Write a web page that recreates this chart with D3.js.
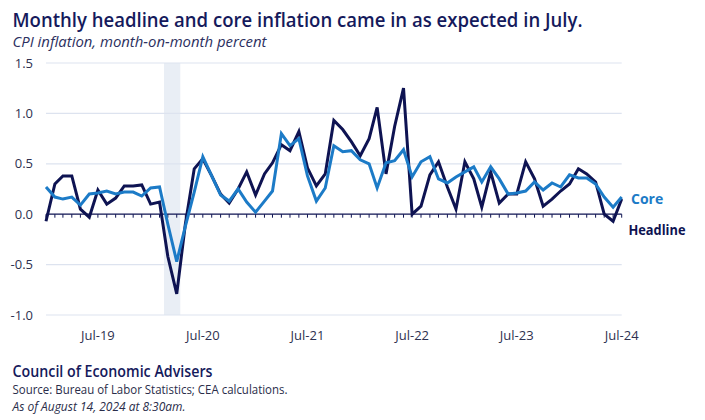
<!DOCTYPE html>
<html>
<head>
<meta charset="utf-8">
<script src="https://cdn.jsdelivr.net/npm/d3@7"></script>
<style>
  body { margin: 0; background: #fff; }
  svg { display: block; font-family: 'Open Sans', sans-serif; }
</style>
</head>
<body>
<div id="chart"></div>
<script>
// monthly CPI, Jan 2019 .. Jul 2024
const startMonth = new Date(2019, 0, 1);
const endMonth = new Date(2024, 6, 1);
const months = d3.timeMonth.range(startMonth, d3.timeMonth.offset(endMonth, 1));

const headline = [
  -0.07, 0.30, 0.38, 0.38, 0.05, -0.03, 0.24, 0.10, 0.16, 0.28, 0.28, 0.29,
  0.10, 0.12, -0.42, -0.79, -0.10, 0.45, 0.55, 0.38, 0.20, 0.11, 0.25, 0.42,
  0.19, 0.40, 0.51, 0.69, 0.63, 0.82, 0.46, 0.28, 0.40, 0.93, 0.84, 0.72,
  0.58, 0.75, 1.06, 0.40, 0.87, 1.25, 0.00, 0.08, 0.39, 0.52, 0.27, 0.05,
  0.52, 0.35, 0.07, 0.42, 0.11, 0.20, 0.20, 0.52, 0.35, 0.08, 0.15, 0.23,
  0.30, 0.45, 0.40, 0.32, 0.00, -0.07, 0.15
];

const core = [
  0.27, 0.17, 0.15, 0.17, 0.09, 0.20, 0.21, 0.23, 0.20, 0.22, 0.22, 0.18,
  0.26, 0.27, -0.10, -0.47, -0.12, 0.22, 0.57, 0.38, 0.19, 0.13, 0.25, 0.12,
  0.02, 0.13, 0.23, 0.80, 0.68, 0.75, 0.38, 0.13, 0.26, 0.68, 0.62, 0.63,
  0.54, 0.50, 0.26, 0.51, 0.53, 0.64, 0.37, 0.52, 0.57, 0.35, 0.31, 0.37,
  0.42, 0.47, 0.32, 0.47, 0.35, 0.20, 0.21, 0.23, 0.32, 0.24, 0.31, 0.27,
  0.39, 0.36, 0.36, 0.30, 0.17, 0.07, 0.17
];

const yTicks = [-1.0, -0.5, 0.0, 0.5, 1.0, 1.5];
const xTickDates = [2019, 2020, 2021, 2022, 2023, 2024].map(y => new Date(y, 6, 1));
const recession = [new Date(2020, 1, 1), new Date(2020, 3, 1)];

const width = 705, height = 420;
const navy = '#151a5c', blue = '#1c7bc7', lineNavy = '#0e1352';

const x = d3.scaleTime().domain([startMonth, endMonth]).range([46, 621.7]);
const y = d3.scaleLinear().domain([-1, 1.5]).range([315, 63]);
const step = x(months[1]) - x(months[0]);

const svg = d3.select('#chart').append('svg')
  .attr('width', width)
  .attr('height', height);

// titles
svg.append('text')
  .attr('x', 12.5).attr('y', 27)
  .attr('font-size', 20).attr('font-weight', 600)
  .attr('fill', navy)
  .attr('textLength', 570).attr('lengthAdjust', 'spacingAndGlyphs')
  .text('Monthly headline and core inflation came in as expected in July.');

svg.append('text')
  .attr('x', 12.5).attr('y', 47)
  .attr('font-size', 14.5).attr('font-style', 'italic')
  .attr('fill', '#2c3060')
  .attr('textLength', 254).attr('lengthAdjust', 'spacingAndGlyphs')
  .text('CPI inflation, month-on-month percent');

// recession band
svg.append('rect')
  .attr('x', x(recession[0]) + step * 0.5)
  .attr('width', x(recession[1]) - x(recession[0]) - step * 0.1)
  .attr('y', y(1.5))
  .attr('height', y(-1) - y(1.5))
  .attr('fill', '#e9eef5');

// grid
svg.append('g')
  .selectAll('line')
  .data(yTicks.filter(d => d !== 0))
  .join('line')
    .attr('x1', x.range()[0]).attr('x2', x.range()[1])
    .attr('y1', d => y(d)).attr('y2', d => y(d))
    .attr('stroke', '#dde3ef').attr('stroke-width', 1.2);

// y labels (plain hyphen for negatives, as in the source)
svg.append('g')
  .selectAll('text')
  .data(yTicks)
  .join('text')
    .attr('x', 33).attr('y', d => y(d))
    .attr('dy', '0.35em')
    .attr('text-anchor', 'end')
    .attr('font-size', 13)
    .attr('fill', '#2e3150')
    .text(d => d3.format('.1f')(d).replace('\u2212', '-'));

// zero axis with monthly ticks
const zero = svg.append('g').attr('transform', `translate(0,${y(0)})`);
zero.selectAll('line.tick')
  .data(months)
  .join('line')
    .classed('tick', true)
    .attr('x1', d => x(d)).attr('x2', d => x(d))
    .attr('y1', 0).attr('y2', 3.5)
    .attr('stroke', lineNavy).attr('stroke-width', 1);
zero.append('line')
  .attr('x1', x.range()[0]).attr('x2', x.range()[1])
  .attr('stroke', lineNavy).attr('stroke-width', 1.3);

// x labels
svg.append('g')
  .selectAll('text')
  .data(xTickDates)
  .join('text')
    .attr('x', d => x(d)).attr('y', 335)
    .attr('dy', '0.35em')
    .attr('text-anchor', 'middle')
    .attr('font-size', 13)
    .attr('fill', '#2e3150')
    .text(d => d3.timeFormat('%b-%y')(d));

// lines
const line = values => d3.line()
  .x((d, i) => x(months[i]))
  .y(d => y(d))(values);

svg.append('path')
  .attr('d', line(headline))
  .attr('fill', 'none')
  .attr('stroke', lineNavy)
  .attr('stroke-width', 3)
  .attr('stroke-linejoin', 'miter');

svg.append('path')
  .attr('d', line(core))
  .attr('fill', 'none')
  .attr('stroke', blue)
  .attr('stroke-width', 3)
  .attr('stroke-linejoin', 'miter');

// series labels
svg.append('text')
  .attr('x', 631).attr('y', 199).attr('dy', '0.35em')
  .attr('font-size', 14).attr('font-weight', 700)
  .attr('fill', blue)
  .text('Core');

svg.append('text')
  .attr('x', 628.5).attr('y', 230).attr('dy', '0.35em')
  .attr('font-size', 14).attr('font-weight', 700)
  .attr('fill', lineNavy)
  .attr('textLength', 57).attr('lengthAdjust', 'spacingAndGlyphs')
  .text('Headline');

// footer
svg.append('text')
  .attr('x', 12.5).attr('y', 376.5)
  .attr('font-size', 16.5).attr('font-weight', 600)
  .attr('fill', navy)
  .attr('textLength', 200).attr('lengthAdjust', 'spacingAndGlyphs')
  .text('Council of Economic Advisers');

svg.append('text')
  .attr('x', 12.5).attr('y', 393.5)
  .attr('font-size', 12.5)
  .attr('fill', '#2a2d4a')
  .attr('textLength', 275).attr('lengthAdjust', 'spacingAndGlyphs')
  .text('Source: Bureau of Labor Statistics; CEA calculations.');

svg.append('text')
  .attr('x', 12.5).attr('y', 410.5)
  .attr('font-size', 12.5).attr('font-style', 'italic')
  .attr('fill', '#2a2d4a')
  .attr('textLength', 173).attr('lengthAdjust', 'spacingAndGlyphs')
  .text('As of August 14, 2024 at 8:30am.');
</script>
</body>
</html>
